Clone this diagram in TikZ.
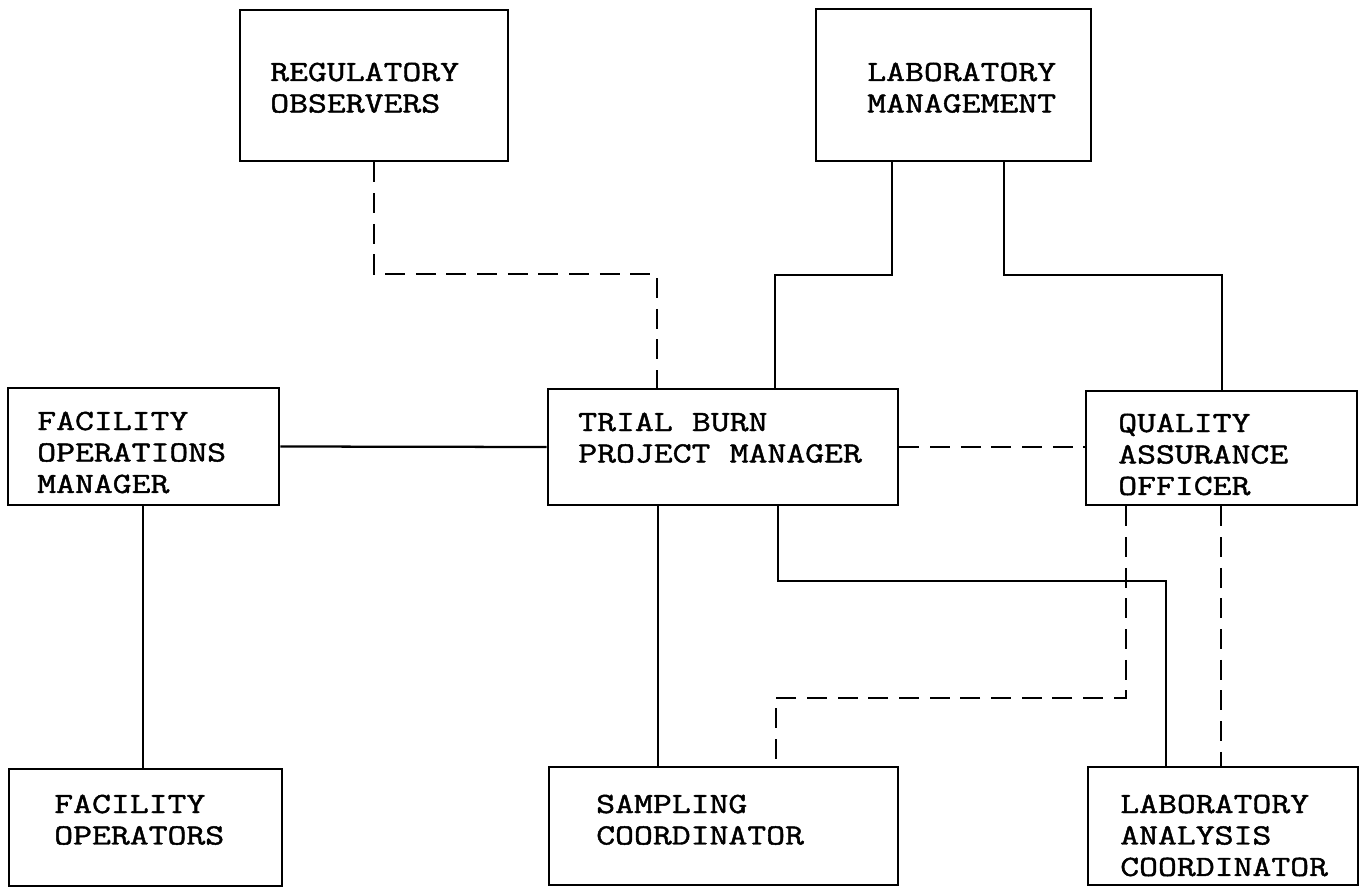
\documentclass[tikz,border=0pt]{standalone}
\usepackage{fontspec}
\newfontfamily\cour[FakeStretch=1.25, FakeBold=1.5]{Latin Modern Mono}
\newcommand\labfont{\cour\fontsize{22}{23.6}\selectfont}
\usetikzlibrary{fit}
\tikzset{
  box/.style={draw=black, line width=2.2pt, inner sep=0pt, fill=none},
  lbl/.style={anchor=base west, inner sep=0pt, text width=10cm, align=left,
              font=\labfont,
              execute at begin node={\spaceskip=14.44pt\relax\xspaceskip=14.44pt\relax}},
  sline/.style={draw=black, line width=1.7pt},
  dline/.style={draw=black, line width=1.7pt, dash pattern=on 15pt off 8pt},
}
\begin{document}
\begin{tikzpicture}[x=0.75pt, y=-0.75pt]
\useasboundingbox (0,0) rectangle (1361,888);
\fill[white] (0,0) rectangle (1361,888);
% boxes
\node[box, fit={(240,10) (508,161)}] (reg) {};
\node[box, fit={(816,9) (1091,161)}] (lab) {};
\node[box, fit={(8,388) (279,505)}] (fom) {};
\node[box, fit={(548,389) (898,505)}] (tb) {};
\node[box, fit={(1086,391) (1357,505)}] (qa) {};
\node[box, fit={(9,769) (282,886)}] (fo) {};
\node[box, fit={(549,767) (898,885)}] (sc) {};
\node[box, fit={(1088,767) (1358,885)}] (lac) {};
% labels
\node[lbl] (treg) at (270,81) {REGULATORY\\OBSERVERS};
\node[lbl] (tlab) at (867,81) {LABORATORY\\MANAGEMENT};
\node[lbl] (tfom) at (37,430) {FACILITY\\OPERATIONS\\MANAGER};
\node[lbl] (ttb) at (578,431) {TRIAL BURN\\PROJECT MANAGER};
\node[lbl] (tqa) at (1118,432) {QUALITY\\ASSURANCE\\OFFICER};
\node[lbl] (tfo) at (54,813) {FACILITY\\OPERATORS};
\node[lbl] (tsc) at (596,813) {SAMPLING\\COORDINATOR};
\node[lbl] (tlac) at (1120,813) {LABORATORY\\ANALYSIS\\COORDINATOR};
% bend points
\coordinate (b1) at (657,274);
\coordinate (b2) at (775,275);
\coordinate (b3) at (1222,275);
\coordinate (b4) at (1166,581);
\coordinate (b5) at (776,698);
% connectors
\draw[dline] (reg.south) |- (b1) -- (tb.north -| b1);
\draw[sline] (lab.south -| 892,0) |- (b2) -- (tb.north -| b2);
\draw[sline] (lab.south -| 1004,0) |- (b3) -- (qa.north -| b3);
\draw[sline] (fom.east) -- (tb.west);
\draw[dline] (tb.east) -- (tb.east -| qa.west);
\draw[sline] (fom.south -| 143,0) -- (fo.north -| 143,0);
\draw[sline] (tb.south -| 658,0) -- (sc.north -| 658,0);
\draw[sline] (tb.south -| 778,0) |- (b4) -- (lac.north -| b4);
\draw[dline] (qa.south -| 1126,0) |- (b5) -- (sc.north -| b5);
\draw[dline] (qa.south -| 1221,0) -- (lac.north -| 1221,0);
\end{tikzpicture}
\end{document}
